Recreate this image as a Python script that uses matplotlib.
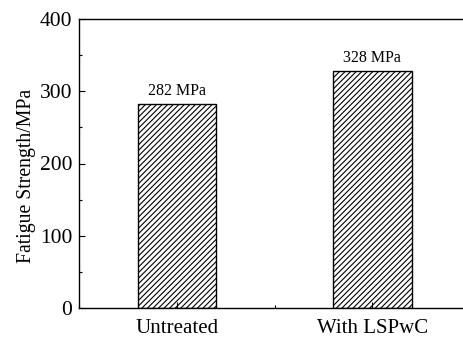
import matplotlib
matplotlib.use("Agg")
import matplotlib.pyplot as plt
from matplotlib.ticker import MultipleLocator

categories = ["Untreated", "With LSPwC"]
values = [282, 328]
labels = ["282 MPa", "328 MPa"]

plt.rcParams['font.family'] = ['Liberation Serif', 'DejaVu Serif']
plt.rcParams['hatch.linewidth'] = 0.8

fig = plt.figure(figsize=(4.63, 3.38), dpi=100)
ax = fig.add_axes([79/463, 30/338, 391.2/463, 289/338])

x = list(range(len(categories)))
bars = ax.bar(x, values, width=0.4, color='white', edgecolor='black',
              hatch='//////', linewidth=1.0)
for xi, v, lab in zip(x, values, labels):
    ax.text(xi, v + 7, lab, ha='center', va='bottom', fontsize=11.5)

ax.set_xlim(-0.5, 1.5)
ax.set_ylim(0, 400)
ax.set_xticks(x)
ax.set_xticklabels(categories, fontsize=15)
ax.xaxis.set_minor_locator(MultipleLocator(0.5))
ax.yaxis.set_major_locator(MultipleLocator(100))
ax.yaxis.set_minor_locator(MultipleLocator(50))
ax.tick_params(axis='both', which='major', direction='in', length=4, width=0.8)
ax.tick_params(axis='both', which='minor', direction='in', length=2.5, width=0.8)
ax.tick_params(axis='x', which='major', pad=8, labelsize=15)
ax.tick_params(axis='y', which='major', pad=5, labelsize=15.5)
ax.set_ylabel("Fatigue Strength/MPa", fontsize=14.2)
ax.yaxis.set_label_coords(-0.11, 0.4585)
for s in ax.spines.values():
    s.set_linewidth(1.0)

fig.savefig("out.png", dpi=100)
